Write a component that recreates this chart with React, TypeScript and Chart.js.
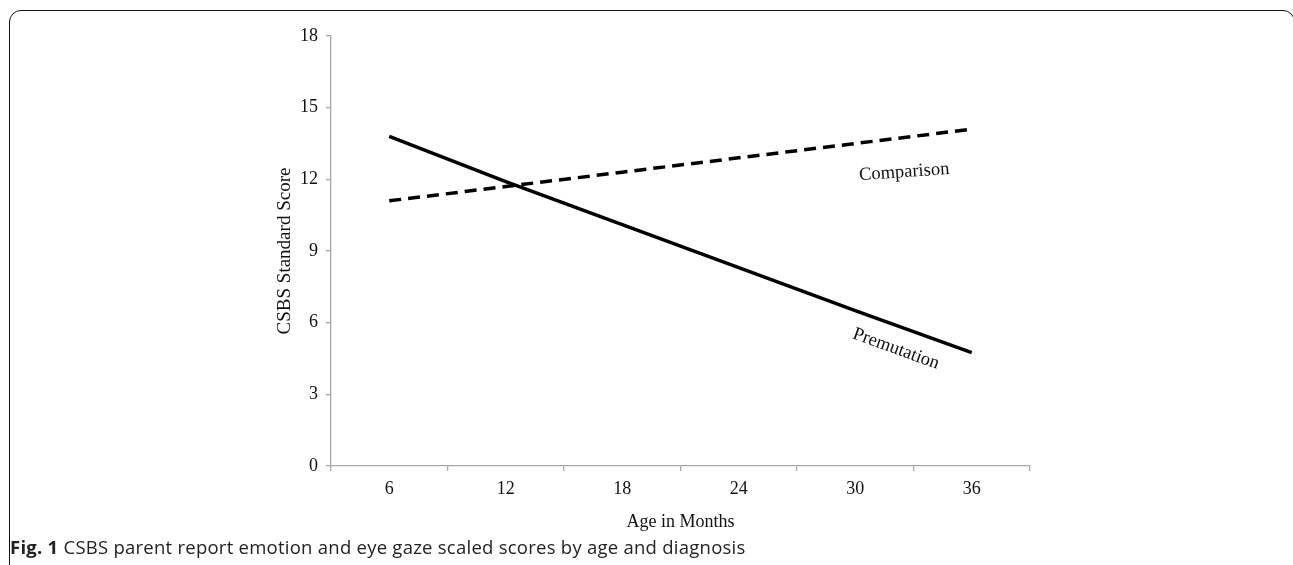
import React, { useEffect, useRef } from "react";
import { Chart, registerables } from "chart.js";

Chart.register(...registerables);

const ageLabels = ["6", "12", "18", "24", "30", "36"];
const premutationScores = [13.8, 11.9, 10.1, 8.3, 6.5, 4.75];
const comparisonScores = [11.1, 11.7, 12.3, 12.9, 13.5, 14.1];
const yTicks = [0, 3, 6, 9, 12, 15, 18];
const seriesNames = ["Premutation", "Comparison"];
// annotation anchors in data units: [category index, value, rotation deg]
const premutationLabelPos = [4.35, 4.9, 20];
const comparisonLabelPos = [4.42, 12.3, -4];

const SERIF = "'Liberation Serif', 'Times New Roman', serif";
const AXIS_GRAY = "#a8a8a8";

const labelPlugin = {
  id: "seriesLabels",
  afterDatasetsDraw(chart: any) {
    const { ctx, scales } = chart;
    const xs = scales.x;
    const ys = scales.y;
    const items: [string, number[]][] = [
      [seriesNames[1], comparisonLabelPos],
      [seriesNames[0], premutationLabelPos],
    ];
    ctx.save();
    ctx.fillStyle = "#111";
    ctx.font = `18.5px ${SERIF}`;
    ctx.textAlign = "center";
    ctx.textBaseline = "middle";
    for (const [text, pos] of items) {
      const px = xs.getPixelForValue(pos[0]);
      const py = ys.getPixelForValue(pos[1]);
      ctx.save();
      ctx.translate(px, py);
      ctx.rotate((pos[2] * Math.PI) / 180);
      ctx.fillText(text, 0, 0);
      ctx.restore();
    }
    ctx.restore();
  },
};

export default function App() {
  const canvasRef = useRef<HTMLCanvasElement | null>(null);

  useEffect(() => {
    const canvas = canvasRef.current;
    if (!canvas) return;
    const chart = new Chart(canvas, {
      type: "line",
      data: {
        labels: ageLabels,
        datasets: [
          {
            label: seriesNames[0],
            data: premutationScores,
            borderColor: "#000",
            borderWidth: 3.5,
            pointRadius: 0,
            fill: false,
            tension: 0,
          },
          {
            label: seriesNames[1],
            data: comparisonScores,
            borderColor: "#000",
            borderWidth: 3.5,
            borderDash: [12, 7],
            pointRadius: 0,
            fill: false,
            tension: 0,
          },
        ],
      },
      options: {
        animation: false,
        responsive: false,
        maintainAspectRatio: false,
        layout: { padding: { left: 266, right: 263, top: 36, bottom: 29 } },
        plugins: {
          legend: { display: false },
          tooltip: { enabled: false },
          title: { display: false },
        },
        scales: {
          x: {
            type: "category",
            offset: true,
            grid: {
              offset: true,
              drawOnChartArea: false,
              drawTicks: true,
              tickLength: 5,
              color: AXIS_GRAY,
              lineWidth: 1.3,
            },
            border: { color: AXIS_GRAY, width: 1.3 },
            ticks: {
              color: "#111",
              font: { family: SERIF, size: 18 },
              padding: 7,
              maxRotation: 0,
            },
            title: {
              display: true,
              text: "Age in Months",
              color: "#111",
              font: { family: SERIF, size: 18 },
              padding: { top: 0, bottom: 3 },
            },
            afterFit: (scale: any) => {
              scale.height = 70;
            },
          },
          y: {
            min: 0,
            max: 18,
            afterBuildTicks: (scale: any) => {
              scale.ticks = yTicks.map((v) => ({ value: v }));
            },
            grid: {
              drawOnChartArea: false,
              drawTicks: true,
              tickLength: 5,
              color: AXIS_GRAY,
              lineWidth: 1.3,
            },
            border: { color: AXIS_GRAY, width: 1.3 },
            ticks: {
              color: "#111",
              font: { family: SERIF, size: 18 },
              padding: 8,
            },
            title: {
              display: true,
              text: "CSBS Standard Score",
              color: "#111",
              font: { family: SERIF, size: 19 },
              padding: { top: 8, bottom: 0 },
            },
            afterFit: (scale: any) => {
              scale.width = 65;
            },
          },
        },
      },
      plugins: [labelPlugin],
    });
    return () => chart.destroy();
  }, []);

  return (
    <div
      style={{
        position: "fixed",
        left: 0,
        top: 0,
        width: 1293,
        height: 565,
        overflow: "hidden",
        background: "#fff",
      }}
    >
      <div
        style={{
          position: "absolute",
          left: 9,
          top: 10,
          width: 1286,
          height: 600,
          border: "1.8px solid #111",
          borderRadius: 12,
          boxSizing: "border-box",
        }}
      />
      <canvas
        ref={canvasRef}
        width={1293}
        height={565}
        style={{ position: "absolute", left: 0, top: 0, width: 1293, height: 565 }}
      />
      <div
        style={{
          position: "absolute",
          left: 10,
          top: 535,
          fontFamily: "'Open Sans', 'Noto Sans', sans-serif",
          fontSize: 18.5,
          color: "#222",
          whiteSpace: "nowrap",
          lineHeight: "24px",
          letterSpacing: "0.25px",
        }}
      >
        <span style={{ fontWeight: 700 }}>Fig. 1</span> CSBS parent report emotion and eye gaze
        scaled scores by age and diagnosis
      </div>
    </div>
  );
}
